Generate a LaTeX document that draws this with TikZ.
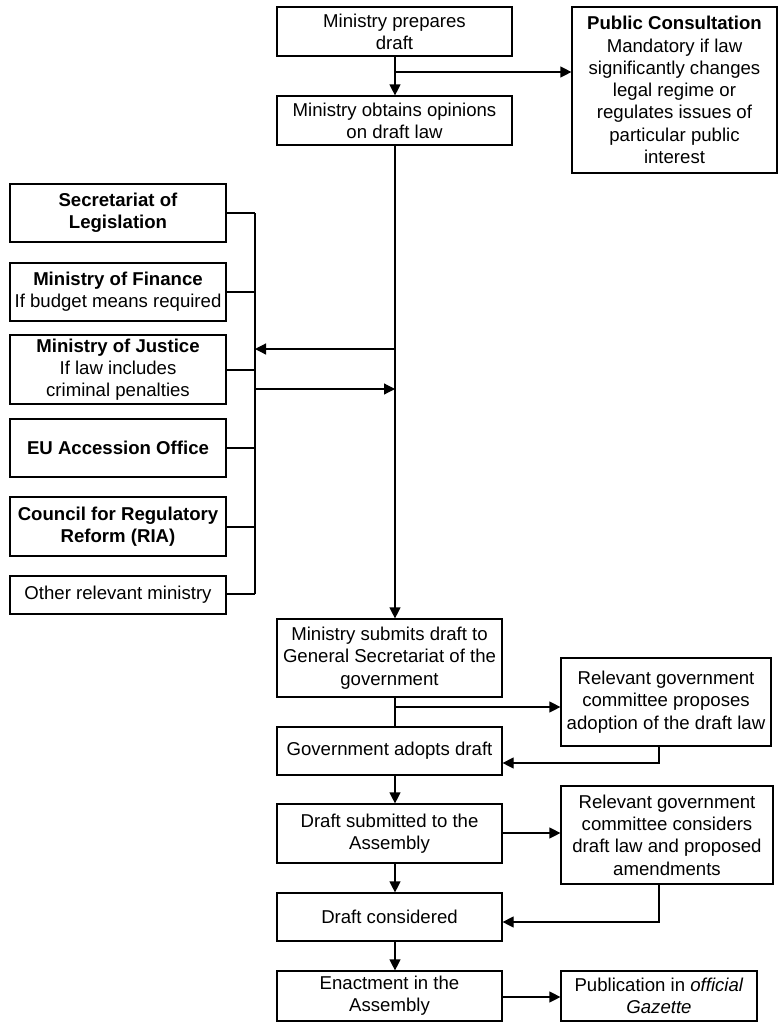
\documentclass[tikz,border=0pt]{standalone}
\usepackage{fontspec}
\setmainfont{Liberation Sans}
\usetikzlibrary{arrows.meta}
\begin{document}
\begin{tikzpicture}[x=1pt,y=-1pt,
  box/.style={draw,line width=1.2pt,rectangle,inner sep=0pt,align=center,
    font=\fontsize{18.6}{22.3}\selectfont},
  ln/.style={line width=1.2pt},
  arr/.style={line width=1.2pt,-{Triangle[length=11pt,width=11pt]}}]
\useasboundingbox (0,0) rectangle (781,1029);
% main column
\node[box,minimum width=235pt,minimum height=49pt] (prep) at (394.5,31.5) {Ministry prepares\\draft};
\node[box,minimum width=235pt,minimum height=49pt] (opin) at (394.5,120.5) {Ministry obtains opinions\\on draft law};
\node[box,minimum width=205pt,minimum height=166pt] (pub) at (674.5,90) {\textbf{Public Consultation}\\Mandatory if law\\significantly changes\\legal regime or\\regulates issues of\\particular public\\interest};
% left column
\node[box,minimum width=216pt,minimum height=58pt] (sec) at (118,213) {\textbf{Secretariat of}\\\textbf{Legislation}};
\node[box,minimum width=216pt,minimum height=58pt] (fin) at (118,292) {\textbf{Ministry of Finance}\\If budget means required};
\node[box,minimum width=216pt,minimum height=69pt] (jus) at (118,369.5) {\textbf{Ministry of Justice}\\If law includes\\criminal penalties};
\node[box,minimum width=216pt,minimum height=58pt] (eu) at (118,448) {\textbf{EU Accession Office}};
\node[box,minimum width=216pt,minimum height=59pt] (cou) at (118,526.5) {\textbf{Council for Regulatory}\\\textbf{Reform (RIA)}};
\node[box,minimum width=216pt,minimum height=38pt] (oth) at (118,595) {Other relevant ministry};
% lower column
\node[box,minimum width=225pt,minimum height=78pt] (sub) at (389.5,658) {Ministry submits draft to\\General Secretariat of the\\government};
\node[box,minimum width=210pt,minimum height=88pt] (rel1) at (666,702) {Relevant government\\committee proposes\\adoption of the draft law};
\node[box,minimum width=225pt,minimum height=48pt] (gov) at (389.5,751) {Government adopts draft};
\node[box,minimum width=225pt,minimum height=59pt] (dsub) at (389.5,833.5) {Draft submitted to the\\Assembly};
\node[box,minimum width=212pt,minimum height=98pt] (rel2) at (667,835) {Relevant government\\committee considers\\draft law and proposed\\amendments};
\node[box,minimum width=225pt,minimum height=48pt] (dcon) at (389.5,917) {Draft considered};
\node[box,minimum width=225pt,minimum height=50pt] (ena) at (389.5,996) {Enactment in the\\Assembly};
\node[box,minimum width=196pt,minimum height=50pt] (pubg) at (659,996) {Publication in \textit{official}\\\textit{Gazette}};
% coordinates
\coordinate (mx) at (395,0);
\coordinate (b1) at (395,72);
\coordinate (busT) at (255,213);
\coordinate (busB) at (255,594);
\coordinate (la) at (395,349);
\coordinate (lb) at (255,349);
\coordinate (ra) at (255,389);
\coordinate (rb) at (395,389);
\coordinate (b2) at (395,707);
\coordinate (c1) at (659,763);
\coordinate (c2) at (659,922);
% connectors
\draw[arr] (prep.south -| mx) -- (opin.north -| mx);
\draw[arr] (b1) -- (b1 -| pub.west);
\draw[arr] (opin.south -| mx) -- (sub.north -| mx);
\draw[ln] (busT) -- (busB);
\draw[ln] (sec.east |- busT) -- (busT);
\foreach \n/\y in {fin/292,jus/370,eu/448,cou/527,oth/594}{
  \coordinate (s\n) at (255,\y);
  \draw[ln] (\n.east |- s\n) -- (s\n);
}
\draw[arr] (la) -- (lb);
\draw[arr] (ra) -- (rb);
\draw[ln] (sub.south -| mx) -- (gov.north -| mx);
\draw[arr] (b2) -- (b2 -| rel1.west);
\draw[arr] (rel1.south -| c1) -- (c1) -- (c1 -| gov.east);
\draw[arr] (gov.south -| mx) -- (dsub.north -| mx);
\draw[arr] (dsub.east |- 0,833) -- (rel2.west |- 0,833);
\draw[arr] (dsub.south -| mx) -- (dcon.north -| mx);
\draw[arr] (rel2.south -| c2) -- (c2) -- (c2 -| dcon.east);
\draw[arr] (dcon.south -| mx) -- (ena.north -| mx);
\draw[arr] (ena.east |- 0,997) -- (pubg.west |- 0,997);
\end{tikzpicture}
\end{document}
